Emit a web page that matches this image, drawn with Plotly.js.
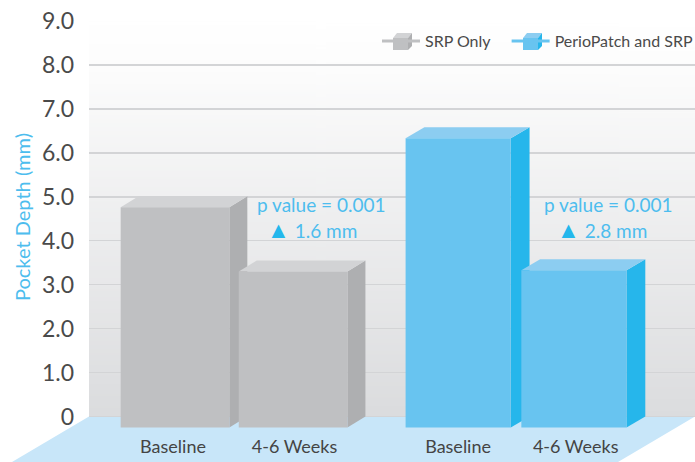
<!DOCTYPE html>
<html>
<head>
<meta charset="utf-8">
<script src="https://cdn.plot.ly/plotly-3.0.1.min.js"></script>
<style>html,body{margin:0;padding:0;background:#fff}#c{width:695px;height:462px}</style>
</head>
<body>
<div id="c"></div>
<script>
// Data
const seriesNames = ['SRP Only', 'PerioPatch and SRP'];
const categories = ['Baseline', '4-6 Weeks', 'Baseline', '4-6 Weeks'];
const srpValues = [5.01, 3.55];
const perioValues = [6.58, 3.58];
const yTicks = [0, 1, 2, 3, 4, 5, 6, 7, 8, 9];
const yTickText = ['0', '1.0', '2.0', '3.0', '4.0', '5.0', '6.0', '7.0', '8.0', '9.0'];
const srpSlots = [0, 1.005];
const perioSlots = [2.41, 3.395];
const labelSlots = [-0.017, 1.017, 2.409, 3.41];
const noteP = 'p value = 0.001';
const noteDeltas = ['1.6 mm', '2.8 mm'];

// Style
const W = 695, H = 462, L = 89, T = 21;
const xr = [-0.732, 4.4255], yr = [-1.036, 9];
const dy = 0.25;
const BLUE_TXT = '#4dbdee', TRI = '#23b7ec';
const greys = {front: '#bfc0c2', side: '#aeafb1', top: '#d2d3d5', w: 0.925, dx: 0.153};
const blues = {front: '#68c4f0', side: '#26b6eb', top: '#8ccdf1', w: 0.895, dx: 0.16};
const FONT = 'Lato, sans-serif';

function faces(xs, vs, c) {
  const out = [];
  xs.forEach((x, i) => {
    const v = vs[i], l = x - c.w / 2, r = x + c.w / 2, dx = c.dx;
    out.push({type: 'path', layer: 'between', xref: 'x', yref: 'y', line: {width: 0}, fillcolor: c.side,
      path: `M${r},${-dy} L${r + dx},0 L${r + dx},${v} L${r},${v - dy} Z`});
    out.push({type: 'path', layer: 'between', xref: 'x', yref: 'y', line: {width: 0}, fillcolor: c.top,
      path: `M${l},${v - dy} L${l + dx},${v} L${r + dx},${v} L${r},${v - dy} Z`});
  });
  return out;
}

// background gradient
const cv = document.createElement('canvas');
cv.width = 4; cv.height = 400;
const g = cv.getContext('2d');
const gr = g.createLinearGradient(0, 0, 0, 400);
gr.addColorStop(0, '#ffffff');
gr.addColorStop(0.1, '#fdfdfd');
gr.addColorStop(1, '#dbdcde');
g.fillStyle = gr; g.fillRect(0, 0, 4, 400);

const fy = v => (H - v) / (H - T);   // paper fraction from a pixel row
const fx = v => (v - L) / (W - L);   // paper fraction from a pixel column

const floor = {type: 'path', layer: 'below', xref: 'paper', yref: 'paper', line: {width: 0}, fillcolor: '#c8e6f9',
  path: `M${fx(12)},${fy(462)} L${fx(89)},${fy(416.5)} L${fx(695)},${fy(416.5)} L${fx(618)},${fy(462)} Z`};

// small cube drawn around each legend key
function keyCube(left, c) {
  const poly = (pts, col) => ({type: 'path', layer: 'above', xref: 'paper', yref: 'paper', line: {width: 0}, fillcolor: col,
    path: 'M' + pts.map(p => `${fx(p[0])},${fy(p[1])}`).join(' L') + ' Z'});
  const r = left + 15;
  return [
    poly([[left, 38], [left + 4, 33], [r + 4, 33], [r, 38]], c.top),
    poly([[r, 38], [r + 4, 33], [r + 4, 46], [r, 50]], c.side),
    poly([[left, 38], [r, 38], [r, 50], [left, 50]], c.front)
  ];
}

const traces = [
  {type: 'bar', x: srpSlots, y: srpValues, base: -dy, width: greys.w, marker: {color: greys.front, line: {width: 0}}, showlegend: false, name: seriesNames[0]},
  {type: 'bar', x: perioSlots, y: perioValues, base: -dy, width: blues.w, marker: {color: blues.front, line: {width: 0}}, showlegend: false, name: seriesNames[1]},
  {type: 'scatter', mode: 'lines+markers', x: [null], y: [null], name: seriesNames[0], legend: 'legend', line: {color: '#bfc0c2', width: 3}, marker: {symbol: 'square', size: 5, color: greys.front}},
  {type: 'scatter', mode: 'lines+markers', x: [null], y: [null], name: seriesNames[1], legend: 'legend2', line: {color: '#68c4f0', width: 3}, marker: {symbol: 'square', size: 5, color: blues.front}}
];

function note(x, y, text) {
  return {xref: 'x', yref: 'y', x, y, text, showarrow: false, font: {family: FONT, size: 19, color: BLUE_TXT}, xanchor: 'center', yanchor: 'middle'};
}
const tri = t => `<span style="color:${TRI};font-size:23px">▲</span> ${t}`;
const legendBase = {orientation: 'h', xanchor: 'right', y: fy(41), yanchor: 'middle', bgcolor: 'rgba(0,0,0,0)',
    font: {family: FONT, size: 16, color: '#4a4a4a'}, itemwidth: 38};

const layout = {
  width: W, height: H,
  margin: {l: L, r: 0, t: T, b: 0, pad: 0, autoexpand: false},
  paper_bgcolor: '#ffffff', plot_bgcolor: 'rgba(0,0,0,0)',
  font: {family: FONT, color: '#4a4a4a'},
  barmode: 'overlay',
  showlegend: true,
  legend: Object.assign({x: fx(497)}, legendBase),
  legend2: Object.assign({x: 1.006}, legendBase),
  xaxis: {range: xr, tickmode: 'array', tickvals: labelSlots, ticktext: categories, showgrid: false, zeroline: false,
    showline: false, ticks: '', anchor: 'free', position: fy(434), tickfont: {family: FONT, size: 18, color: '#444'}},
  yaxis: {range: yr, tickmode: 'array', tickvals: yTicks, ticktext: yTickText, showgrid: true, gridcolor: '#d3d4d6', gridwidth: 1.5,
    zeroline: false, showline: false, ticks: '', ticklabelstandoff: 14, automargin: false,
    tickfont: {family: FONT, size: 23, color: '#4a4a4a'}},
  images: [{source: cv.toDataURL(), xref: 'x', yref: 'y', x: xr[0], y: 9, sizex: xr[1] - xr[0], sizey: 9, sizing: 'stretch', layer: 'below', xanchor: 'left', yanchor: 'top'}],
  shapes: [floor].concat(faces(srpSlots, srpValues, greys), faces(perioSlots, perioValues, blues), keyCube(393, greys), keyCube(523, blues)),
  annotations: [
    note(1.243, 4.82, noteP), note(1.17, 4.27, tri(noteDeltas[0])),
    note(3.69, 4.82, noteP), note(3.63, 4.27, tri(noteDeltas[1])),
    {xref: 'paper', yref: 'paper', x: fx(22), y: fy(217), text: 'Pocket Depth (mm)', textangle: -90, showarrow: false,
     font: {family: FONT, size: 20, color: BLUE_TXT}, xanchor: 'center', yanchor: 'middle'}
  ]
};
Plotly.newPlot('c', traces, layout, {displayModeBar: false, staticPlot: true});
</script>
</body>
</html>
